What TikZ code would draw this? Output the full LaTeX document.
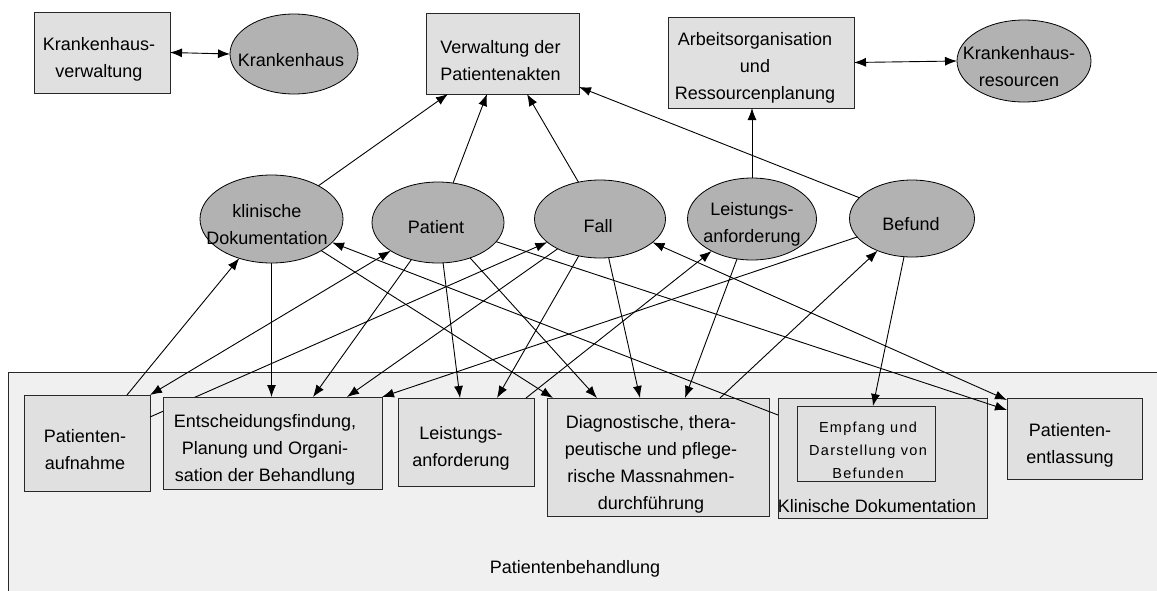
\documentclass[tikz,border=0pt]{standalone}
\usepackage{fontspec}
\setmainfont{Liberation Sans}
\newfontfamily\spacedfont[LetterSpace=9]{Liberation Sans}
\usetikzlibrary{arrows.meta,shapes.geometric}
\definecolor{ellfill}{RGB}{178,178,178}
\definecolor{boxfill}{RGB}{224,224,224}
\definecolor{areafill}{RGB}{240,240,240}
\definecolor{boxline}{RGB}{40,40,40}

\begin{document}
\begin{tikzpicture}[x=1pt,y=-1pt,
  every node/.style={inner sep=0pt, outer sep=0pt},
  boxst/.style={draw=boxline, fill=boxfill, line width=0.9pt, rectangle},
  ellst/.style={draw=black, fill=ellfill, line width=0.8pt, ellipse},
  txt/.style={font=\fontsize{18}{27}\selectfont, align=center},
  smalltxt/.style={font=\spacedfont\fontsize{14.5}{23}\selectfont, align=center},
  conn/.style={line width=0.9pt, -{Latex[length=12pt,width=9pt]}},
  biconn/.style={line width=0.9pt, {Latex[length=12pt,width=9pt]}-{Latex[length=12pt,width=9pt]}}
]
\useasboundingbox (0,0) rectangle (1157,590);
\clip (0,0) rectangle (1157,590);
\fill[white] (0,0) rectangle (1157,590);

% area of the patient treatment processes
\node[draw=boxline, fill=areafill, line width=0.9pt, minimum width=1160pt,
      minimum height=240pt, anchor=north west] (behandlung) at (8,372) {};
\node[txt] (behandlungtxt) at (575,569) {Patientenbehandlung};

% top row
\node[boxst, minimum width=136pt, minimum height=81pt] (kvw) at (102,52.5) {};
\node[txt] (kvwtxt) at (99,59.5) {Krankenhaus-\\verwaltung};
\node[ellst, minimum width=128pt, minimum height=80pt] (kh) at (294,54) {};
\node[txt] (khtxt) at (291,60) {Krankenhaus};
\node[boxst, minimum width=153pt, minimum height=81pt] (vpa) at (502.5,53.5) {};
\node[txt, align=left] (vpatxt) at (500.5,61) {Verwaltung der\\Patientenakten};
\node[boxst, minimum width=186pt, minimum height=91pt] (aor) at (761,62.5) {};
\node[txt] (aortxt) at (755,68) {Arbeitsorganisation\\und\\Ressourcenplanung};
\node[ellst, minimum width=134pt, minimum height=82pt] (khr) at (1024,61) {};
\node[txt] (khrtxt) at (1019,66.5) {Krankenhaus-\\resourcen};

% entity row
\node[ellst, minimum width=143pt, minimum height=88pt] (ekd) at (271.5,219) {};
\node[txt] (ekdtxt) at (267,224.5) {klinische\\Dokumentation};
\node[ellst, minimum width=132pt, minimum height=81pt] (epat) at (438,222.5) {};
\node[txt] (epattxt) at (436,227) {Patient};
\node[ellst, minimum width=131pt, minimum height=78pt] (efall) at (600,219) {};
\node[txt] (efalltxt) at (598,226) {Fall};
\node[ellst, minimum width=129pt, minimum height=82pt] (elei) at (752,219) {};
\node[txt] (eleitxt) at (752,224.5) {Leistungs-\\anforderung};
\node[ellst, minimum width=125pt, minimum height=77pt] (ebef) at (912,218.5) {};
\node[txt] (ebeftxt) at (911,224) {Befund};

% admission box, its link to the case runs behind the next box
\node[boxst, minimum width=126pt, minimum height=96pt] (pa) at (87,443) {};
\node[txt] (patxt) at (85,450) {Patienten-\\aufnahme};
\draw[conn] ([yshift=26pt]pa.east) -- (efall);

% remaining process boxes
\node[boxst, minimum width=219pt, minimum height=92pt] (ent) at (272.5,443) {};
\node[txt] (enttxt) at (265,450) {Entscheidungsfindung,\\Planung und Organi-\\sation der Behandlung};
\node[boxst, minimum width=136pt, minimum height=88pt] (lab) at (466,442) {};
\node[txt] (labtxt) at (461,448.5) {Leistungs-\\anforderung};
\node[boxst, minimum width=222pt, minimum height=118pt] (dia) at (658,457) {};
\node[txt] (diatxt) at (651,464) {Diagnostische, thera-\\peutische und pflege-\\rische Massnahmen-\\durchführung};
\node[boxst, minimum width=209pt, minimum height=120pt] (kdb) at (882.5,458) {};
\node[txt] (kdbtxt) at (877,506) {Klinische Dokumentation};
\node[boxst, minimum width=138pt, minimum height=75pt] (emp) at (866,443.5) {};
\node[smalltxt] (emptxt) at (868,450) {Empfang und\\Darstellung von\\Befunden};
\node[boxst, minimum width=135pt, minimum height=81pt] (pe) at (1074.5,438.5) {};
\node[txt] (petxt) at (1070,445.5) {Patienten-\\entlassung};

% top connectors
\draw[biconn] (kvw.east) -- (kh.west);
\draw[biconn] (aor.east) -- (khr.west);
\draw[conn] (ekd) -- ([xshift=-54.5pt]vpa.south);
\draw[conn] (epat) -- ([xshift=-15.5pt]vpa.south);
\draw[conn] (efall) -- ([xshift=24.5pt]vpa.south);
\draw[conn] (ebef) -- ([yshift=7pt]vpa.south east);
\draw[conn] (elei.north) -- (elei.north |- aor.south);

% connectors between entities and processes
\draw[conn] (ekd.south) -- (ekd.south |- ent.north);
\draw[conn] ([xshift=103pt]pa.north west) -- (ekd);
\draw[biconn] (epat) -- (pa.north east);
\draw[conn] (epat) -- ([xshift=150pt]ent.north west);
\draw[conn] (efall) -- ([xshift=184pt]ent.north west);
\draw[conn] (ebef) -- (ent.north east);
\draw[conn] (epat) -- ([xshift=62pt]lab.north west);
\draw[conn] (efall) -- ([xshift=99pt]lab.north west);
\draw[conn] ([xshift=-8pt]lab.north east) -- (elei);
\draw[conn] (ekd) -- ([xshift=6pt]dia.north west);
\draw[conn] (epat) -- ([xshift=50pt]dia.north west);
\draw[conn] (efall) -- ([xshift=93pt]dia.north west);
\draw[conn] (elei) -- ([xshift=138pt]dia.north west);
\draw[conn] ([xshift=173pt]dia.north west) -- (ebef);
\draw[conn] (ebef) -- ([xshift=7pt]emp.north);
\draw[conn] ([yshift=-17pt]kdb.north west) -- (ekd);
\draw[conn] (epat) -- ([yshift=-12pt]pe.north west);
\draw[biconn] (efall) -- ([yshift=-2pt]pe.north west);
\end{tikzpicture}
\end{document}
